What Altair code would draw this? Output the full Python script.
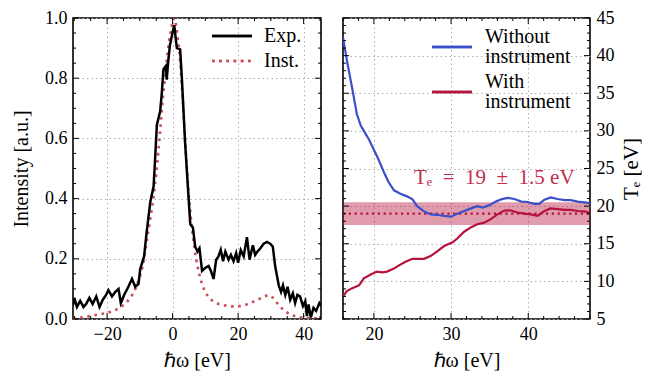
import altair as alt
import pandas as pd

FONT = "Liberation Serif"

# ---------------- Left panel data ----------------
exp_x = [-30.4, -30.0, -29.2, -28.2, -27.2, -26.4, -25.4, -24.4, -23.3, -22.3, -21.3, -20.3, -19.6,
         -18.5, -17.5, -16.5, -15.8, -14.8, -13.5, -12.4, -11.4, -10.4, -9.9, -8.7, -7.9, -6.8,
         -5.8, -5.3, -4.8, -3.8, -3.3, -2.8, -2.1, -1.8, -1.3, -0.8, 0.05, 0.5, 1.3, 2.3, 2.8,
         3.8, 4.6, 5.4, 6.2, 6.9, 7.6, 8.2, 9.0, 10.0, 11.0, 11.7, 12.5, 13.3, 14.0, 14.7, 15.4,
         16.1, 17.1, 17.8, 18.6, 19.4, 20.0, 20.8, 21.7, 22.7, 23.5, 24.5, 25.2, 25.9, 26.8,
         27.8, 28.8, 29.8, 30.6, 31.3, 32.4, 33.1, 33.7, 34.4, 35.1, 35.9, 36.7, 37.4, 38.1,
         38.9, 39.8, 40.5, 41.0, 41.5, 42.2, 43.0, 43.8, 44.8, 45.3]
exp_y = [0.05, 0.07, 0.04, 0.06, 0.04, 0.05, 0.07, 0.05, 0.075, 0.04, 0.064, 0.08, 0.096,
         0.075, 0.09, 0.10, 0.053, 0.08, 0.107, 0.133, 0.107, 0.117, 0.165, 0.208, 0.29, 0.39,
         0.44, 0.54, 0.645, 0.69, 0.75, 0.83, 0.84, 0.795, 0.86, 0.91, 0.955, 0.976, 0.90, 0.896, 0.806,
         0.59, 0.45, 0.315, 0.304, 0.24, 0.224, 0.235, 0.16, 0.17, 0.176, 0.16, 0.133, 0.197, 0.208, 0.23, 0.192,
         0.224, 0.197, 0.213, 0.192, 0.219, 0.187, 0.229, 0.208, 0.272, 0.197, 0.245, 0.213, 0.224, 0.235,
         0.25, 0.256, 0.25, 0.24, 0.176, 0.112, 0.09, 0.112, 0.08, 0.107, 0.064, 0.085, 0.053, 0.08,
         0.075, 0.043, 0.059, 0.01, 0.048, 0.005, 0.037, 0.027, 0.053, 0.045]

inst_x = [-30.4, -28, -25, -22, -20, -18, -16, -14, -12, -11, -10, -9, -8, -7, -6, -5, -4, -3, -2,
          -1, 0, 0.5, 1, 2, 3, 4, 5, 6, 7, 8, 9, 10, 11, 12, 14, 16, 18, 20, 22, 24, 26, 28, 29,
          30, 31, 32, 34, 36, 38, 40, 42, 45.3]
inst_y = [0.003, 0.005, 0.01, 0.016, 0.02, 0.027, 0.038, 0.055, 0.085, 0.11, 0.14, 0.18, 0.25,
          0.32, 0.39, 0.48, 0.6, 0.73, 0.84, 0.93, 0.99, 1.0, 0.98, 0.9, 0.75, 0.56, 0.4, 0.29,
          0.21, 0.155, 0.115, 0.088, 0.072, 0.062, 0.05, 0.045, 0.042, 0.042, 0.046, 0.054, 0.064,
          0.075, 0.079, 0.077, 0.066, 0.052, 0.028, 0.014, 0.007, 0.004, 0.003, 0.002]

left_series = ["Exp.", "Inst."]

# ---------------- Right panel data ----------------
wo_x = [16.0, 16.5, 17.2, 17.8, 18.3, 18.7, 19.4, 20.0, 20.6, 21.3, 21.9, 22.6, 23.5, 24.3, 25.0,
        25.6, 26.5, 27.4, 28.2, 29.1, 30.0, 30.8, 31.7, 32.6, 33.4, 34.1, 34.9, 35.8, 36.5, 37.3,
        38.2, 39.1, 39.9, 40.8, 41.4, 42.1, 42.9, 43.8, 44.7, 45.5, 46.4, 47.3, 48.0]
wo_y = [42.4, 39.4, 35.6, 32.2, 30.7, 30.0, 28.8, 27.5, 26.2, 24.5, 23.2, 22.1, 21.6, 21.3, 20.9,
        20.0, 19.3, 18.9, 18.85, 18.7, 18.6, 19.0, 19.35, 19.7, 20.0, 19.8, 20.1, 20.6, 20.9, 21.1,
        20.95, 20.6, 20.55, 20.3, 20.3, 20.85, 21.15, 20.95, 20.8, 20.8, 20.6, 20.5, 20.4]

wi_x = [16.0, 16.5, 17.2, 18.1, 18.7, 19.6, 20.4, 21.1, 21.7, 22.6, 23.2, 24.1, 25.0, 25.6, 26.5,
        27.4, 28.2, 29.1, 30.2, 30.8, 31.7, 32.6, 33.4, 34.3, 35.2, 36.0, 36.9, 37.7, 38.6, 39.5,
        40.3, 41.2, 42.1, 42.9, 43.8, 44.7, 45.5, 46.4, 47.3, 48.0]
wi_y = [8.0, 8.7, 9.1, 9.5, 10.4, 10.9, 11.3, 11.2, 11.3, 11.7, 12.1, 12.6, 13.0, 13.0, 13.0,
        13.4, 14.0, 14.7, 15.2, 15.7, 16.6, 17.2, 17.6, 17.8, 18.3, 18.9, 19.4, 19.45, 19.15, 19.0,
        18.9, 18.7, 19.35, 19.7, 19.6, 19.5, 19.5, 19.35, 19.3, 19.1]

right_series = ["Without\ninstrument", "With\ninstrument"]
te_value = 19.0
te_err = 1.5
te_label = ["Tₑ\u2002=\u200219\u2002±\u20021.5 eV"]
te_label_pos = [35.6, 23.7]

# ---------------- Axes / ticks ----------------
L_XDOM = [-30.4, 45.3]
L_YDOM = [0, 1]
L_XMAJ = [-20, 0, 20, 40]
L_XMIN = [-30, -25, -15, -10, -5, 5, 10, 15, 25, 30, 35, 45]
L_YMAJ = [0, 0.2, 0.4, 0.6, 0.8, 1.0]
L_YMIN = [0.05, 0.1, 0.15, 0.25, 0.3, 0.35, 0.45, 0.5, 0.55, 0.65, 0.7, 0.75, 0.85, 0.9, 0.95]

R_XDOM = [16, 48]
R_YDOM = [5, 45]
R_XMAJ = [20, 30, 40]
R_XMIN = [16, 18, 22, 24, 26, 28, 32, 34, 36, 38, 42, 44, 46, 48]
R_YMAJ = [5, 10, 15, 20, 25, 30, 35, 40, 45]
R_YMIN = [v for v in range(6, 45) if v % 5 != 0]

W_L, W_R, H = 248, 247, 301

C_EXP = "black"
C_INST = "#cc4c57"
C_BLUE = "#3a50c8"
C_RED = "#b5123c"


def tick_layers(xscale, yscale, xaxis, yaxis, xmaj, xmin, ymaj, ymin, W, H):
    layers = []
    for vals, ln in [(xmaj, 6), (xmin, 3)]:
        base = alt.Chart(pd.DataFrame({"v": vals})).mark_rule(color="black", strokeWidth=1)
        xe = alt.X("v:Q", scale=xscale, axis=xaxis)
        layers.append(base.encode(x=xe, y=alt.value(H), y2=alt.value(H - ln)))
        layers.append(base.encode(x=xe, y=alt.value(0), y2=alt.value(ln)))
    for vals, ln in [(ymaj, 6), (ymin, 3)]:
        base = alt.Chart(pd.DataFrame({"v": vals})).mark_rule(color="black", strokeWidth=1)
        ye = alt.Y("v:Q", scale=yscale, axis=yaxis)
        layers.append(base.encode(y=ye, x=alt.value(0), x2=alt.value(ln)))
        layers.append(base.encode(y=ye, x=alt.value(W), x2=alt.value(W - ln)))
    return layers


# ---------------- Left chart ----------------
lxs = alt.Scale(domain=L_XDOM, nice=False, zero=False)
lys = alt.Scale(domain=L_YDOM, nice=False, zero=False)
lx_axis = alt.Axis(title="ℏω [eV]", values=L_XMAJ, format="d", titlePadding=7)
ly_axis = alt.Axis(title="Intensity [a.u.]", values=L_YMAJ, format=".1f", titlePadding=13)

inst_df = pd.DataFrame({"x": inst_x, "y": inst_y})
exp_df = pd.DataFrame({"x": exp_x, "y": exp_y})

inst_line = alt.Chart(inst_df).mark_line(
    color=C_INST, strokeWidth=2.6, strokeDash=[2.6, 4.6], strokeCap="butt", clip=True
).encode(x=alt.X("x:Q", scale=lxs, axis=lx_axis), y=alt.Y("y:Q", scale=lys, axis=ly_axis))

exp_line = alt.Chart(exp_df).mark_line(color=C_EXP, strokeWidth=2.5, clip=True).encode(
    x=alt.X("x:Q", scale=lxs, axis=lx_axis), y=alt.Y("y:Q", scale=lys, axis=ly_axis)
)

LEG_FS = 20
leg_l = pd.DataFrame({"label": left_series})
leg_exp_line = alt.Chart(leg_l).mark_rule(color=C_EXP, strokeWidth=2.5).encode(
    x=alt.value(139), x2=alt.value(179), y=alt.value(18)
)
leg_inst_line = alt.Chart(leg_l).mark_rule(
    color=C_INST, strokeWidth=2.6, strokeDash=[2.6, 4.6], strokeCap="butt"
).encode(x=alt.value(139), x2=alt.value(179), y=alt.value(43))
leg_exp_txt = alt.Chart(pd.DataFrame({"label": [left_series[0]]})).mark_text(
    align="left", baseline="middle", font=FONT, fontSize=LEG_FS, color="black"
).encode(x=alt.value(191), y=alt.value(18), text="label:N")
leg_inst_txt = alt.Chart(pd.DataFrame({"label": [left_series[1]]})).mark_text(
    align="left", baseline="middle", font=FONT, fontSize=LEG_FS, color="black"
).encode(x=alt.value(191), y=alt.value(43), text="label:N")

left = alt.layer(
    inst_line, exp_line,
    *tick_layers(lxs, lys, lx_axis, ly_axis, L_XMAJ, L_XMIN, L_YMAJ, L_YMIN, W_L, H),
    leg_exp_line, leg_inst_line, leg_exp_txt, leg_inst_txt,
).properties(width=W_L, height=H)

# ---------------- Right chart ----------------
rxs = alt.Scale(domain=R_XDOM, nice=False, zero=False)
rys = alt.Scale(domain=R_YDOM, nice=False, zero=False)
rx_axis = alt.Axis(title="ℏω [eV]", values=R_XMAJ, format="d", titlePadding=7)
ry_axis = alt.Axis(title="Tₑ [eV]", values=R_YMAJ, format="d", orient="right",
                   titleAngle=270, titleBaseline="top", titlePadding=6, titleFontSize=21)

band_df = pd.DataFrame({"x": [R_XDOM[0]], "x2": [R_XDOM[1]],
                        "lo": [te_value - te_err], "hi": [te_value + te_err]})
band = alt.Chart(band_df).mark_rect(color=C_RED, opacity=0.42).encode(
    x=alt.X("x:Q", scale=rxs, axis=rx_axis), x2="x2:Q",
    y=alt.Y("lo:Q", scale=rys, axis=ry_axis), y2="hi:Q",
)
te_df = pd.DataFrame({"x": [R_XDOM[0]], "x2": [R_XDOM[1]], "y": [te_value]})
te_line = alt.Chart(te_df).mark_rule(
    color=C_RED, strokeWidth=2.2, strokeDash=[2.2, 3.6], strokeCap="butt"
).encode(x=alt.X("x:Q", scale=rxs, axis=rx_axis), x2="x2:Q",
         y=alt.Y("y:Q", scale=rys, axis=ry_axis))

wo_df = pd.DataFrame({"x": wo_x, "y": wo_y})
wi_df = pd.DataFrame({"x": wi_x, "y": wi_y})
wo_line = alt.Chart(wo_df).mark_line(color=C_BLUE, strokeWidth=2.2, clip=True).encode(
    x=alt.X("x:Q", scale=rxs, axis=rx_axis), y=alt.Y("y:Q", scale=rys, axis=ry_axis)
)
wi_line = alt.Chart(wi_df).mark_line(color=C_RED, strokeWidth=2.2, clip=True).encode(
    x=alt.X("x:Q", scale=rxs, axis=rx_axis), y=alt.Y("y:Q", scale=rys, axis=ry_axis)
)

te_txt = alt.Chart(pd.DataFrame({"x": [te_label_pos[0]], "y": [te_label_pos[1]], "t": te_label})).mark_text(
    font=FONT, fontSize=21, color="#c0304f", align="center", baseline="middle"
).encode(x=alt.X("x:Q", scale=rxs, axis=rx_axis), y=alt.Y("y:Q", scale=rys, axis=ry_axis), text="t:N")

leg_r = pd.DataFrame({"label": right_series})
leg_wo_line = alt.Chart(leg_r).mark_rule(color=C_BLUE, strokeWidth=2.5).encode(
    x=alt.value(89), x2=alt.value(129), y=alt.value(29)
)
leg_wi_line = alt.Chart(leg_r).mark_rule(color=C_RED, strokeWidth=2.5).encode(
    x=alt.value(89), x2=alt.value(129), y=alt.value(74)
)
leg_wo_txt = alt.Chart(pd.DataFrame({"label": [right_series[0]]})).mark_text(
    align="left", baseline="middle", font=FONT, fontSize=LEG_FS, color="black",
    lineBreak="\n", lineHeight=20
).encode(x=alt.value(142), y=alt.value(19), text="label:N")
leg_wi_txt = alt.Chart(pd.DataFrame({"label": [right_series[1]]})).mark_text(
    align="left", baseline="middle", font=FONT, fontSize=LEG_FS, color="black",
    lineBreak="\n", lineHeight=20
).encode(x=alt.value(142), y=alt.value(64), text="label:N")

right = alt.layer(
    band, te_line, wo_line, wi_line, te_txt,
    *tick_layers(rxs, rys, rx_axis, ry_axis, R_XMAJ, R_XMIN, R_YMAJ, R_YMIN, W_R, H),
    leg_wo_line, leg_wi_line, leg_wo_txt, leg_wi_txt,
).properties(width=W_R, height=H)

chart = alt.hconcat(left, right, spacing=18).properties(
    padding={"left": 2, "top": 0, "right": 0, "bottom": 0}
).configure_view(
    stroke="black", strokeWidth=1.6
).configure_axis(
    labelFont=FONT, titleFont=FONT, labelFontSize=18, titleFontSize=20,
    titleFontWeight="normal", labelColor="black", titleColor="black",
    ticks=False, domain=False, labelPadding=6, grid=True,
    gridColor="#b0b0b0", gridDash=[1.5, 3], gridWidth=1,
)

chart.save("out.html", embed_options={"renderer": "svg", "actions": False})
